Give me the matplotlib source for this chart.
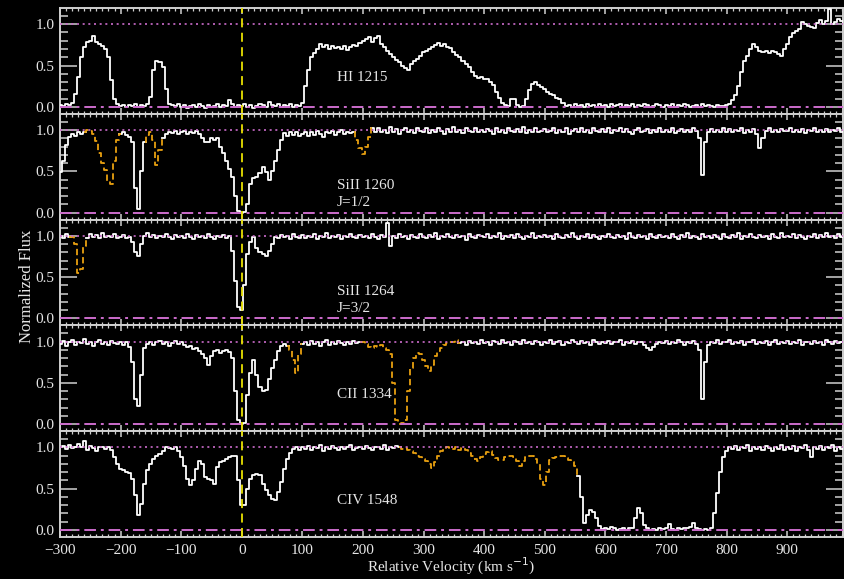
import numpy as np
import matplotlib
matplotlib.use("Agg")
import matplotlib.pyplot as plt
from matplotlib.ticker import MultipleLocator, FormatStrFormatter

# ---------------- data ----------------
velocity = np.arange(-300, 1000, 5)  # km/s, 260 pixels

hi_1215 = [
    0.02, 0.01, 0.03, 0.02, 0.05, 0.15, 0.36, 0.60, 0.72, 0.78, 0.80, 0.86, 0.78, 0.76, 0.74, 0.70, 0.60, 0.32, 0.10, 0.03,
    0.01, 0.02, 0.00, 0.02, 0.01, 0.03, 0.00, 0.02, 0.01, 0.03, 0.12, 0.45, 0.56, 0.54, 0.48, 0.22, 0.04, 0.02, 0.01, 0.03,
    0.00, 0.02, -0.01, 0.01, 0.02, 0.00, 0.03, 0.01, -0.01, 0.02, 0.00, 0.01, 0.03, 0.00, 0.02, 0.01, 0.08, 0.03, 0.00, 0.02,
    0.01, 0.03, 0.00, 0.02, -0.01, 0.01, 0.03, 0.02, 0.00, 0.06, 0.02, 0.01, 0.03, 0.00, 0.02, 0.01, 0.03, 0.00, 0.02, 0.01,
    0.05, 0.25, 0.45, 0.60, 0.65, 0.70, 0.76, 0.72, 0.75, 0.70, 0.74, 0.71, 0.73, 0.70, 0.74, 0.69, 0.72, 0.75, 0.74, 0.77,
    0.80, 0.82, 0.84, 0.79, 0.83, 0.86, 0.76, 0.72, 0.68, 0.64, 0.60, 0.57, 0.54, 0.50, 0.47, 0.45, 0.52, 0.55, 0.58, 0.62,
    0.66, 0.68, 0.70, 0.72, 0.75, 0.77, 0.74, 0.76, 0.72, 0.71, 0.66, 0.63, 0.60, 0.55, 0.52, 0.48, 0.42, 0.37, 0.35, 0.36,
    0.34, 0.34, 0.30, 0.26, 0.18, 0.11, 0.05, 0.02, 0.01, 0.09, 0.10, 0.02, 0.00, 0.01, 0.10, 0.20, 0.28, 0.30, 0.27, 0.24,
    0.22, 0.18, 0.16, 0.14, 0.11, 0.10, 0.05, 0.01, 0.02, 0.00, 0.03, 0.01, 0.02, 0.00, 0.03, 0.01, 0.02, 0.00, 0.03, 0.01,
    0.02, 0.00, 0.03, 0.01, 0.02, 0.04, 0.00, 0.02, 0.01, 0.03, 0.00, 0.02, 0.01, 0.03, 0.02, 0.00, 0.01, 0.03, 0.02, 0.00,
    0.02, 0.01, 0.03, 0.00, 0.02, 0.01, 0.03, 0.02, 0.00, 0.01, 0.02, 0.00, 0.03, 0.01, 0.02, 0.01, 0.00, 0.02, 0.01, 0.01,
    0.02, 0.03, 0.08, 0.14, 0.25, 0.42, 0.56, 0.62, 0.70, 0.76, 0.72, 0.68, 0.66, 0.68, 0.65, 0.67, 0.66, 0.64, 0.62, 0.70,
    0.76, 0.84, 0.89, 0.92, 0.94, 1.03, 1.00, 0.98, 0.97, 0.96, 1.02, 1.05, 1.00, 1.04, 1.18, 1.00, 1.03, 1.06, 1.04, 1.02,
]

siii_1260 = [
    0.49, 0.62, 0.82, 0.92, 0.95, 0.93, 0.98, 0.95, 0.98, 1.00, 0.99, 0.95, 0.87, 0.72, 0.60, 0.52, 0.38, 0.35, 0.62, 0.88,
    0.95, 0.97, 0.94, 0.91, 0.85, 0.30, 0.04, 0.50, 0.86, 0.94, 0.97, 0.88, 0.58, 0.76, 0.90, 0.95, 0.98, 0.96, 0.99, 0.95,
    0.97, 0.99, 0.95, 0.98, 0.96, 0.99, 0.95, 0.90, 0.85, 0.86, 0.90, 0.88, 0.90, 0.80, 0.72, 0.63, 0.53, 0.43, 0.20, 0.02,
    0.00, 0.01, 0.10, 0.35, 0.42, 0.43, 0.48, 0.55, 0.49, 0.40, 0.50, 0.62, 0.76, 0.88, 0.96, 0.93, 0.97, 0.94, 0.98, 0.93,
    0.95, 0.98, 0.93, 0.97, 0.94, 0.99, 0.95, 0.92, 0.97, 0.96, 0.99, 0.94, 0.97, 1.00, 0.95, 0.98, 0.96, 0.97, 0.88, 0.78,
    0.71, 0.80, 0.92, 1.02, 0.98, 1.03, 0.97, 1.00, 0.96, 1.04, 0.98, 1.01, 0.95, 1.00, 1.03, 0.97, 1.00, 0.96, 1.02, 0.99,
    0.98, 1.02, 0.96, 1.00, 0.97, 1.03, 0.99, 0.95, 1.01, 0.98, 1.04, 0.97, 1.00, 0.96, 1.02, 0.99, 0.97, 1.03, 0.98, 1.00,
    0.97, 1.01, 0.99, 0.95, 1.02, 0.98, 1.00, 0.96, 1.03, 0.99, 0.97, 1.01, 0.98, 1.04, 0.96, 1.00, 0.98, 1.02, 0.97, 0.99,
    1.01, 0.97, 0.99, 1.03, 0.96, 1.00, 0.98, 1.02, 0.95, 0.99, 1.01, 0.97, 1.03, 0.98, 1.00, 0.96, 1.02, 0.99, 0.97, 1.01,
    0.98, 1.02, 0.96, 1.00, 0.99, 1.03, 0.97, 1.01, 0.98, 0.95, 1.00, 1.02, 0.97, 0.99, 1.01, 0.96, 1.00, 0.98, 1.03, 0.97,
    1.00, 0.98, 1.02, 0.96, 0.99, 1.01, 0.97, 1.00, 0.98, 1.02, 0.99, 0.90, 0.45, 0.85, 0.97, 1.01, 0.98, 1.00, 0.97, 1.02,
    0.98, 1.01, 0.97, 1.00, 0.99, 1.02, 0.96, 1.00, 0.98, 1.01, 0.95, 0.78, 0.90, 0.99, 1.02, 0.97, 1.00, 0.98, 1.01, 0.99,
    0.99, 1.02, 0.97, 1.00, 0.98, 1.01, 0.96, 1.00, 0.99, 1.02, 0.97, 1.00, 0.98, 1.01, 0.97, 1.00, 0.99, 1.02, 0.98, 1.00,
]

siii_1264 = [
    1.00, 0.97, 1.02, 0.98, 0.99, 0.90, 0.55, 0.60, 0.88, 0.97, 1.02, 0.98, 1.01, 0.97, 1.03, 0.99, 1.00, 0.98, 1.02, 0.97,
    0.99, 1.01, 0.97, 0.98, 0.92, 0.80, 0.76, 0.90, 1.00, 1.03, 0.98, 1.01, 0.97, 1.00, 0.98, 1.02, 0.99, 0.96, 1.01, 0.98,
    1.00, 0.97, 1.02, 0.99, 0.96, 1.01, 0.98, 1.00, 0.97, 1.02, 0.99, 0.96, 1.00, 0.98, 1.01, 0.97, 1.00, 0.82, 0.45, 0.14,
    0.10, 0.40, 0.78, 0.92, 0.99, 0.85, 0.80, 0.78, 0.75, 0.82, 0.90, 0.99, 0.97, 1.01, 0.98, 1.00, 0.96, 1.02, 0.99, 0.97,
    1.01, 0.97, 1.00, 0.98, 1.02, 0.96, 1.00, 0.99, 1.03, 0.97, 1.00, 0.98, 1.01, 0.96, 1.00, 0.98, 1.02, 0.99, 0.97, 1.01,
    0.98, 1.00, 0.97, 1.02, 0.99, 0.96, 1.01, 0.98, 1.15, 0.88, 1.00, 0.97, 1.02, 0.98, 1.00, 0.96, 1.01, 0.99, 0.97, 1.02,
    0.99, 0.97, 1.01, 0.98, 1.03, 0.96, 1.00, 0.98, 1.02, 0.99, 0.97, 1.01, 0.98, 1.00, 0.95, 1.02, 0.99, 0.97, 1.01, 1.00,
    0.98, 1.02, 0.97, 1.00, 0.99, 1.03, 0.96, 1.00, 0.98, 1.01, 0.97, 1.02, 0.99, 0.96, 1.00, 0.98, 1.03, 0.97, 1.00, 0.99,
    1.01, 0.98, 1.00, 0.96, 1.02, 0.99, 0.97, 1.01, 0.98, 1.03, 0.99, 0.96, 1.00, 0.98, 1.02, 0.97, 1.01, 0.99, 0.96, 1.00,
    0.98, 1.02, 0.99, 0.97, 1.01, 0.98, 1.00, 0.96, 1.03, 0.99, 0.97, 1.01, 0.98, 1.00, 0.96, 1.02, 0.99, 0.97, 1.01, 0.98,
    1.00, 0.97, 1.02, 0.99, 0.96, 1.01, 0.98, 1.03, 0.97, 1.00, 0.99, 0.96, 1.02, 0.98, 1.00, 0.97, 1.01, 0.99, 0.96, 1.02,
    0.99, 0.97, 1.01, 0.98, 1.03, 0.96, 1.00, 0.98, 1.02, 0.99, 0.97, 1.01, 0.98, 1.00, 0.96, 1.02, 0.99, 0.97, 1.03, 0.98,
    1.00, 0.98, 1.02, 0.97, 1.01, 0.99, 0.96, 1.00, 0.98, 1.02, 0.97, 1.01, 0.99, 1.03, 0.98, 1.00, 0.97, 1.02, 0.99, 1.01,
]

cii_1334 = [
    0.97, 1.01, 0.95, 0.99, 1.02, 0.96, 1.00, 0.98, 1.03, 0.97, 1.00, 0.95, 0.99, 1.02, 0.97, 1.00, 0.96, 1.01, 0.98, 0.97,
    1.00, 0.96, 0.99, 0.93, 0.75, 0.30, 0.22, 0.60, 0.92, 0.97, 1.00, 0.96, 0.99, 1.01, 0.97, 1.00, 0.95, 0.98, 1.01, 0.97,
    0.99, 0.96, 0.93, 0.95, 0.91, 0.92, 0.88, 0.85, 0.80, 0.72, 0.82, 0.88, 0.90, 0.86, 0.88, 0.90, 0.87, 0.80, 0.40, 0.05,
    0.00, 0.02, 0.35, 0.62, 0.78, 0.60, 0.45, 0.40, 0.42, 0.55, 0.68, 0.78, 0.88, 0.95, 0.97, 0.95, 0.90, 0.78, 0.62, 0.85,
    0.97, 0.99, 0.96, 1.01, 0.97, 1.00, 0.95, 0.99, 1.02, 0.96, 1.00, 0.97, 1.01, 0.98, 0.96, 1.00, 0.97, 1.01, 0.98, 1.00,
    0.99, 0.97, 0.94, 0.92, 0.95, 0.93, 0.96, 0.92, 0.90, 0.85, 0.50, 0.05, 0.00, 0.01, 0.05, 0.40, 0.68, 0.80, 0.86, 0.85,
    0.78, 0.70, 0.64, 0.72, 0.82, 0.88, 0.92, 0.96, 0.98, 1.00, 0.99, 1.02, 0.98, 1.00, 0.96, 1.01, 0.98, 1.00, 0.97, 1.02,
    0.98, 1.00, 0.96, 1.01, 0.99, 0.97, 1.02, 0.98, 1.00, 0.96, 1.01, 0.99, 0.97, 1.02, 0.98, 1.00, 0.97, 1.01, 0.99, 0.96,
    1.00, 0.98, 1.02, 0.97, 0.99, 1.01, 0.96, 1.00, 0.98, 1.02, 0.99, 0.97, 1.01, 0.98, 1.00, 0.96, 1.02, 0.99, 0.97, 1.00,
    0.98, 1.01, 0.97, 1.00, 0.99, 1.02, 0.96, 1.00, 0.98, 1.01, 0.97, 0.99, 1.00, 0.96, 0.92, 0.90, 0.93, 0.97, 1.00, 0.98,
    1.01, 0.97, 1.00, 0.98, 1.02, 0.99, 0.96, 1.00, 0.98, 1.01, 0.97, 0.90, 0.30, 0.75, 0.96, 1.00, 0.98, 1.02, 0.97, 1.00,
    0.99, 1.02, 0.97, 1.00, 0.98, 1.01, 0.96, 1.00, 0.99, 1.02, 0.97, 1.00, 0.98, 1.01, 0.96, 0.99, 1.02, 0.97, 1.00, 0.98,
    1.01, 0.97, 1.00, 0.98, 1.02, 0.96, 1.00, 0.99, 0.97, 1.01, 0.98, 1.00, 0.96, 1.02, 0.99, 0.97, 1.01, 0.98, 1.00, 0.99,
]

civ_1548 = [
    1.00, 1.02, 0.98, 1.03, 0.99, 1.01, 1.04, 1.00, 1.08, 0.97, 1.02, 0.99, 0.96, 1.01, 1.00, 0.98, 1.00, 0.97, 0.88, 0.80,
    0.74, 0.72, 0.70, 0.69, 0.62, 0.42, 0.18, 0.32, 0.56, 0.72, 0.80, 0.86, 0.90, 0.92, 0.96, 1.00, 0.99, 0.98, 1.00, 0.96,
    0.88, 0.78, 0.62, 0.55, 0.60, 0.74, 0.83, 0.80, 0.64, 0.62, 0.60, 0.56, 0.76, 0.82, 0.84, 0.86, 0.88, 0.89, 0.90, 0.60,
    0.30, 0.30, 0.50, 0.62, 0.67, 0.68, 0.66, 0.56, 0.48, 0.42, 0.38, 0.36, 0.46, 0.58, 0.74, 0.86, 0.93, 0.98, 1.00, 0.97,
    1.01, 0.98, 1.02, 0.97, 1.00, 0.99, 1.03, 0.96, 1.00, 0.98, 1.02, 0.99, 0.97, 1.01, 0.98, 1.00, 1.03, 0.97, 0.99, 1.01,
    0.98, 1.02, 0.99, 0.97, 1.01, 1.00, 0.98, 1.03, 0.97, 1.00, 0.99, 1.02, 1.00, 0.98, 0.99, 0.97, 0.95, 0.93, 0.90, 0.88,
    0.86, 0.83, 0.80, 0.75, 0.82, 0.90, 0.95, 0.98, 1.00, 0.99, 0.98, 1.00, 0.97, 0.99, 0.97, 0.93, 0.90, 0.86, 0.84, 0.88,
    0.92, 0.94, 0.95, 0.91, 0.87, 0.85, 0.85, 0.88, 0.90, 0.89, 0.88, 0.83, 0.78, 0.83, 0.88, 0.90, 0.90, 0.86, 0.80, 0.62,
    0.55, 0.70, 0.85, 0.87, 0.88, 0.89, 0.90, 0.87, 0.85, 0.82, 0.78, 0.65, 0.40, 0.08, 0.18, 0.24, 0.22, 0.15, 0.05, 0.01,
    0.02, 0.01, 0.04, 0.03, 0.00, 0.01, 0.02, 0.00, 0.02, 0.03, 0.14, 0.27, 0.20, 0.06, 0.02, 0.00, 0.01, 0.00, 0.02, 0.01,
    0.03, 0.07, 0.01, 0.00, 0.02, 0.01, 0.03, 0.02, 0.04, 0.09, 0.02, 0.01, 0.00, 0.01, 0.00, 0.02, 0.20, 0.45, 0.70, 0.88,
    0.96, 1.00, 0.98, 1.02, 0.97, 1.00, 0.99, 1.03, 0.96, 1.00, 0.98, 1.01, 0.97, 1.02, 0.99, 0.96, 1.00, 0.98, 1.03, 0.97,
    1.00, 0.98, 1.02, 0.96, 1.00, 0.99, 1.03, 0.97, 0.88, 1.00, 0.98, 1.02, 0.97, 1.00, 0.99, 1.03, 0.96, 1.00, 0.98, 1.02,
]

line_names = ["HI 1215", "SiII 1260", "SiII 1264", "CII 1334", "CIV 1548"]
line_sublabels = ["", "J=1/2", "J=3/2", "", ""]
spectra = [hi_1215, siii_1260, siii_1264, cii_1334, civ_1548]
# velocity ranges blended with other transitions (drawn in orange)
blends = [
    [],
    [(-260, -200), (-160, -130), (185, 215)],
    [(-285, -255)],
    [(75, 100), (195, 360)],
    [(260, 555)],
]
x_ticks = [-300, -200, -100, 0, 100, 200, 300, 400, 500, 600, 700, 800, 900]

# ---------------- style ----------------
BG = "black"
FG = "#e6e6e6"
AXC = "#d0d0d0"
MAG = "#cc6ccc"
ORANGE = "#e8a010"
YEL = "#e8e000"
FONT = ["Liberation Serif", "DejaVu Serif"]

plt.rcParams["font.family"] = FONT

fig, axes = plt.subplots(5, 1, figsize=(8.44, 5.79), dpi=100, sharex=True,
                         gridspec_kw=dict(hspace=0))
fig.patch.set_facecolor(BG)
fig.subplots_adjust(left=0.0711, right=0.9988, top=0.986, bottom=0.0725)

for i, ax in enumerate(axes):
    flux = np.array(spectra[i], dtype=float)
    ax.set_facecolor(BG)

    inside = np.zeros_like(flux, dtype=bool)
    for a, b in blends[i]:
        inside |= (velocity > a) & (velocity < b)
    white = np.where(inside, np.nan, flux)
    ax.plot(velocity, white, color="white", lw=1.3, drawstyle="steps-mid", zorder=3)
    for a, b in blends[i]:
        m = (velocity >= a) & (velocity <= b)
        ax.plot(velocity[m], flux[m], color=ORANGE, lw=1.3, ls=(0, (3.5, 2)),
                drawstyle="steps-mid", zorder=3)

    ax.axhline(1.0, color=MAG, lw=1.2, ls=(0, (1.2, 2.2)), zorder=4)
    ax.axhline(0.0, color=MAG, lw=1.4, ls=(0, (6, 2.5, 1.5, 2.5)), zorder=4)
    ax.axvline(0.0, color=YEL, lw=1.3, ls=(0, (5, 3)), zorder=5)

    ax.set_xlim(-300, 992)
    ax.set_ylim(-0.085, 1.195)

    ax.xaxis.set_major_locator(plt.FixedLocator(x_ticks))
    ax.xaxis.set_minor_locator(MultipleLocator(10))
    ax.yaxis.set_major_locator(MultipleLocator(0.5))
    ax.yaxis.set_minor_locator(MultipleLocator(0.1))
    ax.yaxis.set_major_formatter(FormatStrFormatter("%.1f"))

    ax.tick_params(axis="x", which="major", direction="in", length=4, width=1.1,
                   top=True, bottom=True, color=AXC, labelcolor=FG, labelsize=11, pad=5)
    ax.tick_params(axis="x", which="minor", direction="in", length=2, width=0.9,
                   top=True, bottom=True, color=AXC)
    ax.tick_params(axis="y", which="major", direction="in", length=12, width=1.1,
                   left=True, right=True, color=AXC, labelcolor=FG, labelsize=11, pad=4)
    ax.tick_params(axis="y", which="minor", direction="in", length=6, width=1.1,
                   left=True, right=True, color=AXC)
    for s in ax.spines.values():
        s.set_color(AXC)
        s.set_linewidth(1.4)

    if line_sublabels[i]:
        ax.text(157, 0.33, line_names[i], color=FG, fontsize=11, va="center", ha="left")
        ax.text(157, 0.12, line_sublabels[i], color=FG, fontsize=11, va="center", ha="left")
    else:
        ax.text(157, 0.36, line_names[i], color=FG, fontsize=11, va="center", ha="left")

axes[-1].set_xlabel(r"Relative Velocity (km s$^{-1}$)", color=FG, fontsize=11, labelpad=-1)
fig.text(0.032, 0.505, "Normalized Flux", color=FG, fontsize=12, rotation=90,
         va="center", ha="center")

fig.savefig("out.png", dpi=100, facecolor=BG)
